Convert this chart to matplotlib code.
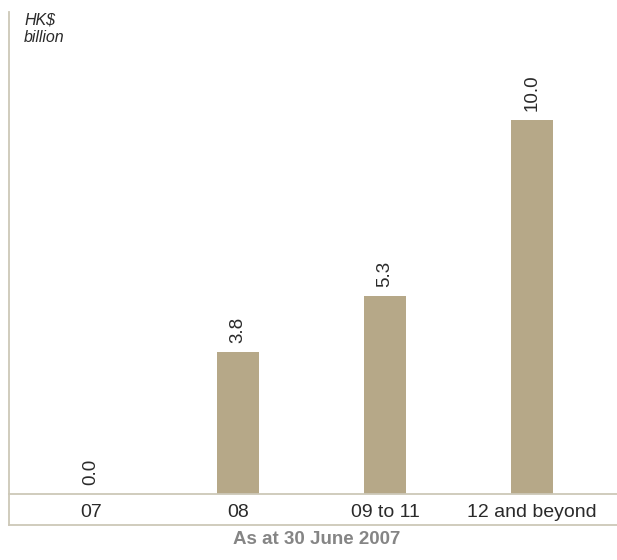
import matplotlib
matplotlib.use("Agg")
import matplotlib.pyplot as plt
from matplotlib.lines import Line2D

categories = ["07", "08", "09 to 11", "12 and beyond"]
values = [0.0, 3.8, 5.3, 10.0]
value_labels = ["0.0", "3.8", "5.3", "10.0"]

plt.rcParams['font.family'] = ['Liberation Sans', 'DejaVu Sans']

W, H = 617, 560
fig = plt.figure(figsize=(W/100, H/100), dpi=100)
ax = fig.add_axes([9/W, (H-494)/H, (W-9)/W, (494-12)/H])

bar_color = "#b6a888"
line_color = "#cdc8b8"
text_color = "#2a2a2a"

x = list(range(len(categories)))
ax.bar(x, values, width=0.286, color=bar_color, zorder=2)

for xi, v, lab in zip(x, values, value_labels):
    ax.annotate(lab, (xi, v), xytext=(0, 6.5), textcoords="offset points",
                rotation=90, ha="center", va="bottom", fontsize=13.5,
                color=text_color)

ax.set_xlim(-0.558, 3.578)
ax.set_ylim(0, 12.9)
ax.set_xticks(x)
ax.set_xticklabels(categories, fontsize=14, color=text_color)
ax.tick_params(axis="x", length=0, pad=7)
ax.set_yticks([])

for s in ["top", "right"]:
    ax.spines[s].set_visible(False)
ax.spines["left"].set_color(line_color)
ax.spines["bottom"].set_color(line_color)
ax.spines["left"].set_linewidth(1.3)
ax.spines["bottom"].set_linewidth(1.3)

# lower box for category labels
fig.add_artist(Line2D([9/W, 1.0], [(H-525)/H, (H-525)/H], color=line_color, lw=1.3))
fig.add_artist(Line2D([9/W, 9/W], [(H-525)/H, (H-494)/H], color=line_color, lw=1.3))

fig.text(24/W, 1 - 13/H, "HK$\nbillion", ha="left", va="top", fontsize=11.5,
         style="italic", color=text_color, linespacing=1.15)

fig.text(317/W, 1 - 540/H, "As at 30 June 2007", ha="center", va="center",
         fontsize=13.5, fontweight="bold", color="#858585")

fig.savefig("out.png", dpi=100)
